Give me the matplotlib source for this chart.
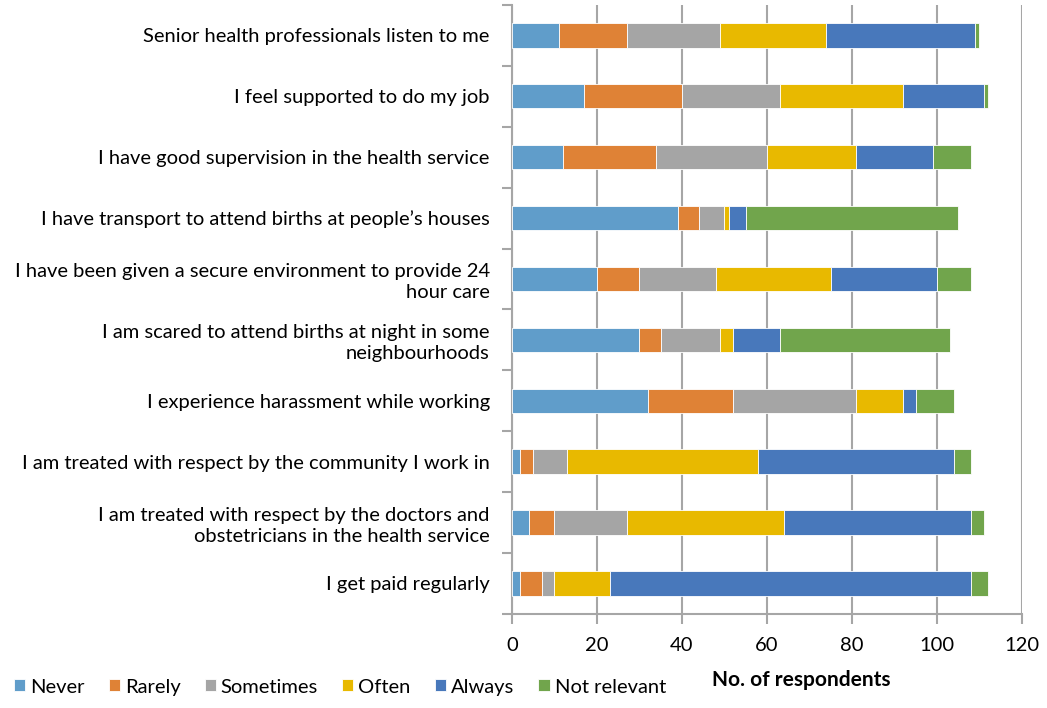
import numpy as np
import matplotlib.pyplot as plt

plt.rcParams['font.family'] = ['Lato', 'DejaVu Sans']

statements = [
    'Senior health professionals listen to me',
    'I feel supported to do my job',
    'I have good supervision in the health service',
    'I have transport to attend births at people\u2019s houses',
    'I have been given a secure environment to provide 24\nhour care',
    'I am scared to attend births at night in some\nneighbourhoods',
    'I experience harassment while working',
    'I am treated with respect by the community I work in',
    'I am treated with respect by the doctors and\nobstetricians in the health service',
    'I get paid regularly',
]
responses = ['Never', 'Rarely', 'Sometimes', 'Often', 'Always', 'Not relevant']

never = [11, 17, 12, 39, 20, 30, 32, 2, 4, 2]
rarely = [16, 23, 22, 5, 10, 5, 20, 3, 6, 5]
sometimes = [22, 23, 26, 6, 18, 14, 29, 8, 17, 3]
often = [25, 29, 21, 1, 27, 3, 11, 45, 37, 13]
always = [35, 19, 18, 4, 25, 11, 3, 46, 44, 85]
not_relevant = [1, 1, 9, 50, 8, 40, 9, 4, 3, 4]

colors = ['#609dca', '#df8236', '#a5a5a5', '#e8b900', '#4878bb', '#71a54c']

fig = plt.figure(figsize=(10.47, 7.08), dpi=100)
ax = fig.add_axes([0.489, 0.133, 0.487, 0.860])

data = np.array([never, rarely, sometimes, often, always, not_relevant])
y = np.arange(len(statements))
left = np.zeros(len(statements))
for i, name in enumerate(responses):
    ax.barh(y, data[i], left=left, height=0.4, color=colors[i],
            edgecolor='white', linewidth=0.6, label=name, zorder=3)
    left += data[i]

ax.set_xlim(0, 120)
ax.set_ylim(len(statements) - 0.5, -0.5)
ax.set_xticks(range(0, 121, 20))
ax.set_yticks(y)
ax.set_yticklabels(statements, fontsize=14.5, linespacing=1.25)
ax.set_yticks(np.arange(-0.5, len(statements)), minor=True)
ax.tick_params(axis='y', which='major', length=0, pad=16)
ax.tick_params(axis='y', which='minor', length=7, color='#a6a6a6', width=1.5)
ax.tick_params(axis='x', length=7, color='#a6a6a6', width=1.5, labelsize=14.5, pad=10)
for lab in ax.get_yticklabels():
    lab.set_horizontalalignment('right')

ax.grid(axis='x', color='#a6a6a6', linewidth=1.5, zorder=0)
for s in ['top', 'right']:
    ax.spines[s].set_visible(False)
for s in ['left', 'bottom']:
    ax.spines[s].set_color('#a6a6a6')
    ax.spines[s].set_linewidth(1.5)

ax.set_xlabel('No. of respondents', fontsize=15, fontweight='bold')
ax.xaxis.set_label_coords(0.567, -0.093)

fig.legend(loc='lower left', bbox_to_anchor=(-0.004, -0.008), ncol=6, frameon=False,
           fontsize=14.5, handlelength=0.55, handleheight=0.55, handletextpad=0.25,
           columnspacing=1.2)

fig.savefig('out.png', dpi=100)
